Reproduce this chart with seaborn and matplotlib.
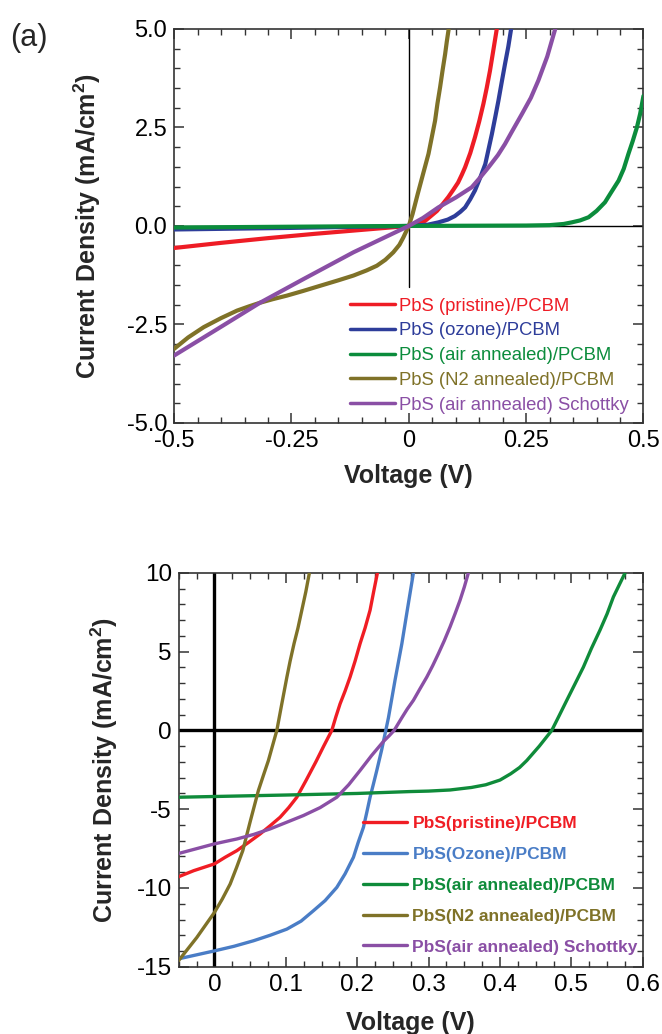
"""
J-V curves of PbS devices, two panels (dark and illuminated)
"""
import matplotlib
matplotlib.use("Agg")
import matplotlib.pyplot as plt
import seaborn as sns
from matplotlib.ticker import MultipleLocator

# ---- panel (a): dark J-V ----
labels_a = ["PbS (pristine)/PCBM", "PbS (ozone)/PCBM", "PbS (air annealed)/PCBM",
            "PbS (N2 annealed)/PCBM", "PbS (air annealed) Schottky"]
colors_a = ["#ee1c25", "#2e3d9a", "#0b8c3c", "#7f7228", "#8a4fa5"]

red_a_v = [-0.5, -0.4, -0.3, -0.2, -0.1, 0, 0.02, 0.035, 0.047, 0.06, 0.072, 0.084, 0.095,
           0.105, 0.113, 0.12, 0.131, 0.141, 0.15, 0.159, 0.166, 0.173, 0.18, 0.1875]
red_a_j = [-0.56, -0.43, -0.31, -0.2, -0.1, 0, 0.05, 0.13, 0.25, 0.38, 0.55, 0.73, 0.92,
           1.1, 1.3, 1.49, 1.85, 2.25, 2.65, 3.1, 3.5, 3.94, 4.45, 5.0]
blue_a_v = [-0.5, -0.25, 0, 0.04, 0.063, 0.083, 0.098, 0.11, 0.12, 0.131, 0.141, 0.152,
            0.163, 0.170, 0.177, 0.184, 0.191, 0.198, 0.205, 0.212, 0.218]
blue_a_j = [-0.09, -0.05, 0, 0.03, 0.09, 0.16, 0.25, 0.36, 0.47, 0.68, 0.9, 1.22,
            1.57, 1.95, 2.33, 2.75, 3.18, 3.65, 4.11, 4.55, 5.0]
green_a_v = [-0.5, 0, 0.25, 0.3, 0.33, 0.347, 0.365, 0.383, 0.40, 0.418, 0.43, 0.447,
             0.458, 0.468, 0.477, 0.486, 0.493, 0.5]
green_a_j = [-0.04, 0, 0.01, 0.02, 0.05, 0.09, 0.14, 0.22, 0.38, 0.6, 0.83, 1.15,
             1.45, 1.83, 2.15, 2.5, 2.85, 3.3]
olive_a_v = [-0.5, -0.47, -0.437, -0.40, -0.366, -0.34, -0.317, -0.29, -0.26, -0.225, -0.189,
             -0.15, -0.118, -0.09, -0.068, -0.05, -0.033, -0.02, -0.0115,
             0, 0.008, 0.019, 0.03, 0.042, 0.049, 0.056, 0.061, 0.0667, 0.072, 0.0774, 0.081, 0.085]
olive_a_j = [-3.12, -2.83, -2.57, -2.34, -2.15, -2.04, -1.95, -1.86, -1.77, -1.65, -1.52,
             -1.38, -1.26, -1.13, -1.01, -0.86, -0.67, -0.48, -0.29,
             0, 0.3, 0.81, 1.3, 1.83, 2.25, 2.67, 3.1, 3.52, 3.95, 4.36, 4.68, 5.0]
purple_a_v = [-0.5, -0.4, -0.317, -0.2245, -0.118, 0, 0.03, 0.063, 0.1, 0.134, 0.15, 0.17,
              0.19, 0.205, 0.22, 0.241, 0.26, 0.276, 0.295, 0.312]
purple_a_j = [-3.29, -2.56, -1.95, -1.35, -0.67, 0, 0.2, 0.47, 0.72, 0.98, 1.2, 1.49,
              1.8, 2.08, 2.4, 2.84, 3.25, 3.69, 4.3, 5.0]

# ---- panel (b): illuminated J-V ----
labels_b = ["PbS(pristine)/PCBM", "PbS(Ozone)/PCBM", "PbS(air annealed)/PCBM",
            "PbS(N2 annealed)/PCBM", "PbS(air annealed) Schottky"]
colors_b = ["#f01d24", "#4a7dc6", "#0f8b3a", "#7f7228", "#8a4fa5"]

red_b_v = [-0.0527, -0.029, 0, 0.015, 0.0314, 0.048, 0.064, 0.078, 0.092, 0.104, 0.1154,
           0.128, 0.142, 0.153, 0.1644, 0.17, 0.176, 0.183, 0.19, 0.197, 0.204, 0.211,
           0.218, 0.223, 0.2283]
red_b_j = [-9.33, -8.9, -8.47, -8.05, -7.63, -7.1, -6.57, -6.05, -5.51, -4.9, -4.24,
           -3.2, -2.0, -1.0, 0, 0.85, 1.69, 2.5, 3.39, 4.4, 5.51, 6.5,
           7.63, 8.8, 10]
blue_b_v = [-0.0527, 0, 0.0273, 0.0546, 0.078, 0.1014, 0.1214, 0.1387, 0.155, 0.1714, 0.183,
            0.1947, 0.2014, 0.2087, 0.2134, 0.218, 0.2227, 0.2274,
            0.2344, 0.240, 0.2437, 0.253, 0.2625, 0.270, 0.2787]
blue_b_j = [-14.52, -13.99, -13.7, -13.35, -13.0, -12.61, -12.1, -11.44, -10.8, -9.96, -9.1,
            -8.05, -7.1, -6.15, -5.2, -4.24, -3.4, -2.54,
            -1.2, 0, 0.8, 3.2, 5.5, 7.6, 10]
green_b_v = [-0.05, 0.1, 0.2, 0.274, 0.3, 0.33, 0.36, 0.38, 0.40, 0.415, 0.4275, 0.4375,
             0.455, 0.4725, 0.483, 0.4935, 0.505, 0.5168, 0.528, 0.54, 0.55, 0.5588, 0.5752]
green_b_j = [-4.24, -4.1, -4.0, -3.88, -3.85, -3.78, -3.62, -3.45, -3.15, -2.75, -2.35, -1.91,
             -1.0, 0, 0.95, 1.91, 2.95, 4.02, 5.2, 6.36, 7.4, 8.47, 10]
olive_b_v = [-0.0504, -0.0247, 0, 0.011, 0.022, 0.031, 0.0397, 0.05, 0.0616, 0.0686, 0.0756,
             0.0815, 0.0874, 0.094, 0.1015, 0.106, 0.1115, 0.117, 0.1224, 0.128, 0.133]
olive_b_j = [-14.62, -13.14, -11.55, -10.7, -9.75, -8.7, -7.63, -5.8, -3.81, -2.85, -1.91,
             -0.95, 0, 1.6, 3.39, 4.4, 5.51, 6.5, 7.63, 8.8, 10]
purple_b_v = [-0.0527, 0, 0.015, 0.0314, 0.055, 0.078, 0.10, 0.1247, 0.148, 0.1714, 0.188,
              0.204, 0.22, 0.2367, 0.2445, 0.2517, 0.2624, 0.27, 0.2787, 0.288, 0.2975,
              0.3056, 0.3137, 0.322, 0.330, 0.337, 0.344, 0.35, 0.3557]
purple_b_j = [-7.84, -7.2, -7.05, -6.89, -6.6, -6.25, -5.85, -5.4, -4.9, -4.24, -3.45,
              -2.54, -1.6, -0.7, -0.35, 0, 0.8, 1.35, 1.91, 2.65, 3.39,
              4.1, 4.87, 5.7, 6.57, 7.4, 8.26, 9.1, 10]

curves_a = [(red_a_v, red_a_j), (blue_a_v, blue_a_j), (green_a_v, green_a_j),
            (olive_a_v, olive_a_j), (purple_a_v, purple_a_j)]
curves_b = [(red_b_v, red_b_j), (blue_b_v, blue_b_j), (green_b_v, green_b_j),
            (olive_b_v, olive_b_j), (purple_b_v, purple_b_j)]

sns.set_theme(style="ticks")
plt.rcParams["font.family"] = ["Liberation Sans", "DejaVu Sans"]
plt.rcParams["mathtext.fontset"] = "custom"
plt.rcParams["mathtext.rm"] = "Liberation Sans:bold"
plt.rcParams["mathtext.bf"] = "Liberation Sans:bold"
plt.rcParams["mathtext.default"] = "bf"

fig = plt.figure(figsize=(6.62, 10.34), dpi=100)
ax1 = fig.add_axes([0.263, 0.591, 0.709, 0.381])
ax2 = fig.add_axes([0.270, 0.065, 0.701, 0.381])


def style_axes(ax, size):
    for sp in ax.spines.values():
        sp.set_linewidth(1.2)
        sp.set_color("#333333")
    ax.tick_params(which="both", direction="in", top=True, right=True,
                   colors="#333333", labelcolor="black", labelsize=size, pad=5)
    ax.tick_params(which="major", length=7, width=1.1)
    ax.tick_params(which="minor", length=4, width=1.0)


# panel (a)
ax1.axhline(0, color="black", lw=1.0, zorder=1)
ax1.plot([0, 0], [-1.55, 5.0], color="black", lw=1.0, zorder=1)
for (v, j), c, lab in zip(curves_a, colors_a, labels_a):
    sns.lineplot(x=v, y=j, ax=ax1, color=c, lw=3.0, sort=False, label=lab, zorder=3)
ax1.set_xlim(-0.5, 0.5)
ax1.set_ylim(-5, 5)
ax1.set_xticks([-0.5, -0.25, 0, 0.25, 0.5])
ax1.set_xticklabels(["-0.5", "-0.25", "0", "0.25", "0.5"])
ax1.set_yticks([-5, -2.5, 0, 2.5, 5])
ax1.set_yticklabels(["-5.0", "-2.5", "0.0", "2.5", "5.0"])
ax1.xaxis.set_minor_locator(MultipleLocator(0.05))
ax1.yaxis.set_minor_locator(MultipleLocator(0.5))
style_axes(ax1, 17)
ax1.set_xlabel("Voltage (V)", fontsize=18, fontweight="bold", labelpad=9)
ax1.set_ylabel("Current Density (mA/cm$^2$)", fontsize=18, fontweight="bold", labelpad=17)
leg1 = ax1.legend(loc="upper left", bbox_to_anchor=(0.375, 0.318), frameon=False,
                  fontsize=13.3, handlelength=2.45, handletextpad=0.2,
                  labelspacing=0.42, borderpad=0, borderaxespad=0)
for t, c in zip(leg1.get_texts(), colors_a):
    t.set_color(c)
for h in leg1.get_lines():
    h.set_linewidth(2.5)

# panel (b)
ax2.axhline(0, color="black", lw=2.4, zorder=1)
ax2.axvline(0, color="black", lw=2.4, zorder=1)
for (v, j), c, lab in zip(curves_b, colors_b, labels_b):
    sns.lineplot(x=v, y=j, ax=ax2, color=c, lw=2.4, sort=False, label=lab, zorder=3)
ax2.set_xlim(-0.05, 0.6)
ax2.set_ylim(-15, 10)
ax2.set_xticks([0, 0.1, 0.2, 0.3, 0.4, 0.5, 0.6])
ax2.set_xticklabels(["0", "0.1", "0.2", "0.3", "0.4", "0.5", "0.6"])
ax2.set_yticks([-15, -10, -5, 0, 5, 10])
ax2.set_yticklabels(["-15", "-10", "-5", "0", "5", "10"])
ax2.xaxis.set_minor_locator(MultipleLocator(0.025))
ax2.yaxis.set_minor_locator(MultipleLocator(1))
style_axes(ax2, 17.5)
ax2.set_xlabel("Voltage (V)", fontsize=18, fontweight="bold", labelpad=11)
ax2.set_ylabel("Current Density (mA/cm$^2$)", fontsize=18, fontweight="bold", labelpad=12)
leg2 = ax2.legend(loc="upper left", bbox_to_anchor=(0.397, 0.382), frameon=False,
                  handlelength=2.55, handletextpad=0.3,
                  labelspacing=0.9, borderpad=0, borderaxespad=0,
                  prop={"weight": "bold", "size": 12.5})
for t, c in zip(leg2.get_texts(), colors_b):
    t.set_color(c)
for h in leg2.get_lines():
    h.set_linewidth(2.4)

fig.text(0.016, 0.978, "(a)", fontsize=22, va="top", ha="left")

fig.savefig("out.png", dpi=100)
